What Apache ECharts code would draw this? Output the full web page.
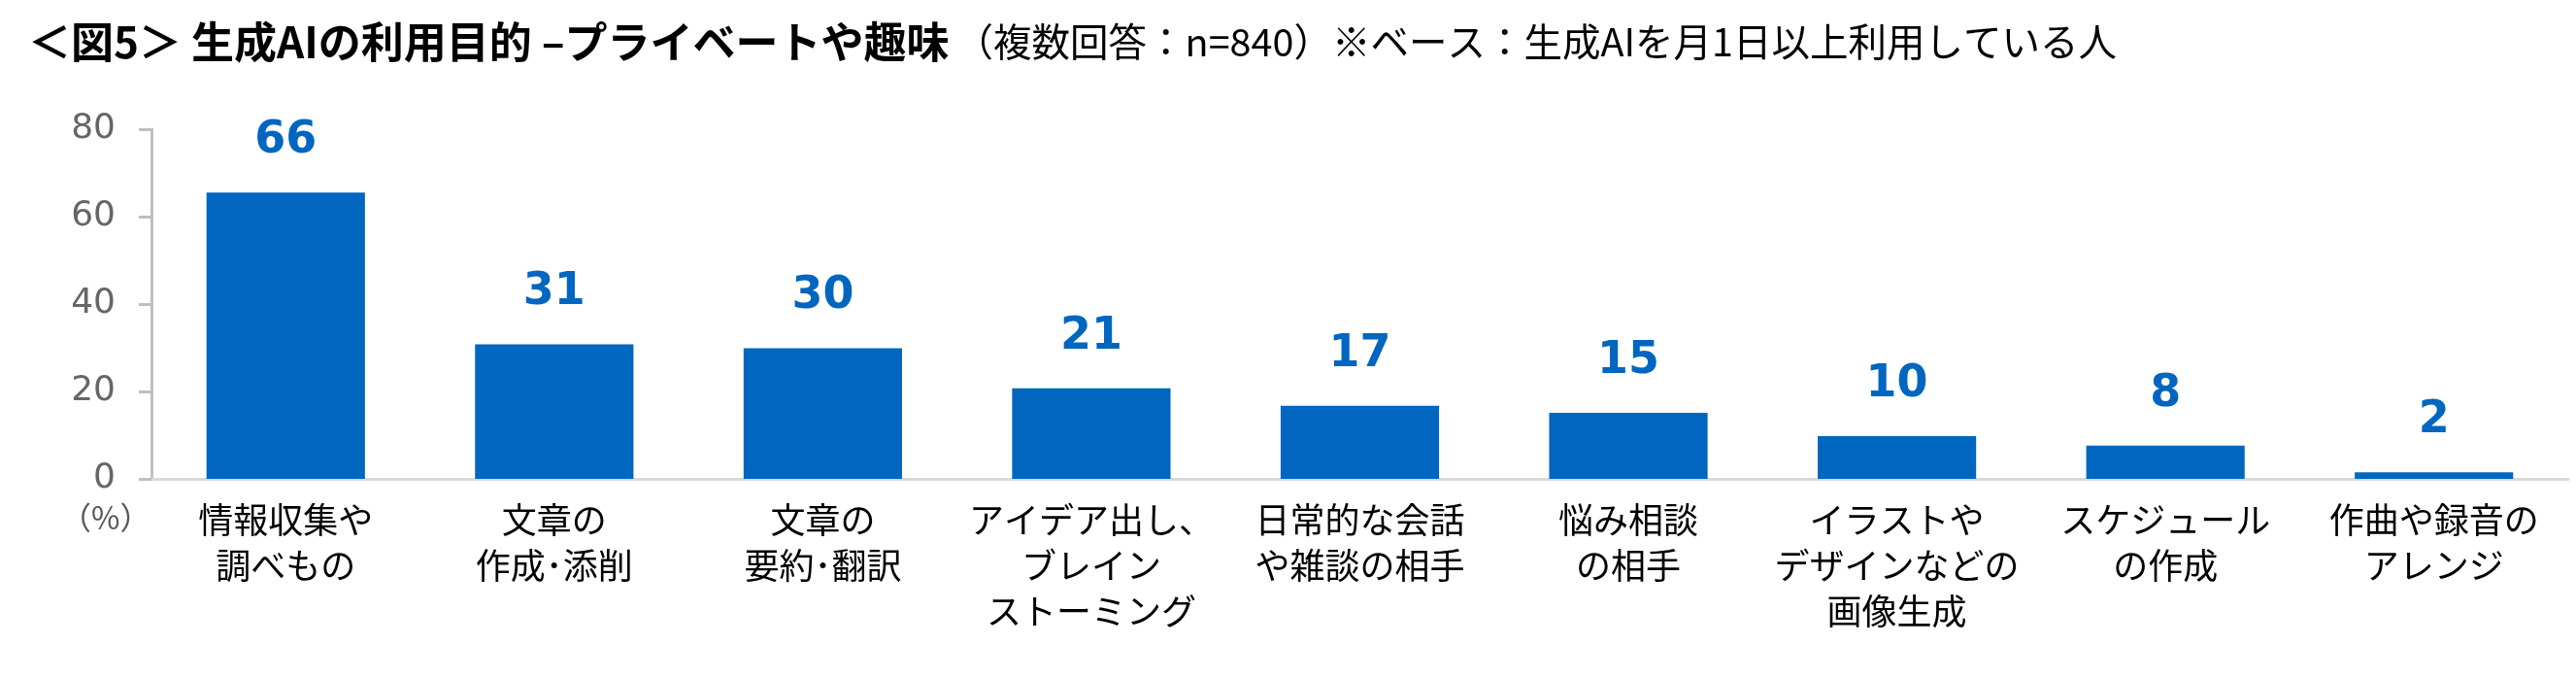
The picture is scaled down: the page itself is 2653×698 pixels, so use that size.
<!DOCTYPE html>
<html><head><meta charset="utf-8">
<script src="https://cdn.jsdelivr.net/npm/echarts@6/dist/echarts.min.js"></script>
<style>html,body{margin:0;padding:0;background:#fff}#c{width:2653px;height:698px}</style>
</head><body><div id="c"></div>
<script>
const categories = [
  '情報収集や\n調べもの',
  '文章の\n作成･添削',
  '文章の\n要約･翻訳',
  'アイデア出し、\nブレイン\nストーミング',
  '日常的な会話\nや雑談の相手',
  '悩み相談\nの相手',
  'イラストや\nデザインなどの\n画像生成',
  'スケジュール\nの作成',
  '作曲や録音の\nアレンジ'
];
const values = [65.5, 30.8, 29.9, 20.7, 16.7, 15.1, 9.8, 7.6, 1.5];
const valueLabels = ['66', '31', '30', '21', '17', '15', '10', '8', '2'];
const yTicks = [0, 20, 40, 60, 80];
const titleMain = '＜図5＞ 生成AIの利用目的 –プライベートや趣味';
const titleSub = '（複数回答：n=840）※ベース：生成AIを月1日以上利用している人';
const unitLabel = '（%）';

const chart = echarts.init(document.getElementById('c'), null, {renderer: 'canvas'});
const CJK = '"Noto Sans CJK JP", "Noto Sans", sans-serif';
chart.setOption({
  animation: false,
  title: {
    left: 24, top: 16,
    text: '{b|' + titleMain + '}{n|' + titleSub + '}',
    textStyle: {
      rich: {
        b: {fontFamily: CJK, fontWeight: 'bold', fontSize: 44, color: '#000'},
        n: {fontFamily: CJK, fontWeight: 'normal', fontSize: 39.5, color: '#000', padding: [0,0,0,6]}
      }
    }
  },
  graphic: [{
    type: 'text', left: 62, top: 517,
    style: {text: unitLabel, font: '32px ' + CJK, fill: '#595959'}
  }],
  grid: {left: 156, right: 8, top: 133, bottom: 205, containLabel: false},
  xAxis: {
    type: 'category', data: categories,
    axisLine: {lineStyle: {color: '#d9d9d9', width: 3}},
    axisTick: {show: false},
    axisLabel: {interval: 0, margin: 19, fontFamily: CJK, fontSize: 36, lineHeight: 47, color: '#000'}
  },
  yAxis: {
    type: 'value', min: 0, max: 80, interval: 20,
    axisLine: {show: true, lineStyle: {color: '#bfbfbf', width: 3}},
    axisTick: {show: true, length: 13, lineStyle: {color: '#bfbfbf', width: 3}},
    splitLine: {show: false},
    axisLabel: {margin: 37, fontFamily: 'DejaVu Sans', fontSize: 36, color: '#666',
      formatter: v => yTicks.includes(v) ? String(v) : ''}
  },
  series: [{
    type: 'bar', data: values, barWidth: '59%',
    itemStyle: {color: '#0066c0'},
    label: {
      show: true, position: 'top', distance: 30,
      fontFamily: 'DejaVu Sans', fontWeight: 'bold', fontSize: 46, color: '#0066c0',
      formatter: p => valueLabels[p.dataIndex]
    }
  }]
});
</script></body></html>
